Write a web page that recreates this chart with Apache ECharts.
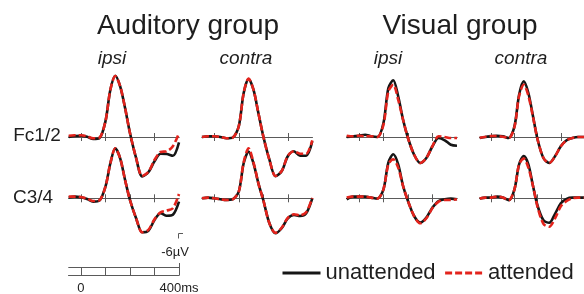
<!DOCTYPE html>
<html><head><meta charset="utf-8">
<script src="https://cdn.jsdelivr.net/npm/echarts@6/dist/echarts.min.js"></script>
<style>html,body{margin:0;padding:0;background:#fff}#c{width:584px;height:294px}</style>
</head><body><div id="c"></div><script>
// time points (ms)
const times = [-50,-25,0,25,50,75,100,120,140,160,180,200,225,250,275,300,325,350,375,400];
// amplitudes (µV, negative up)
const audIpsiFcU = [0,-0.1,-0.13,-0.03,0.2,0.13,-1.57,-4.73,-6.13,-5.07,-2.9,-0.4,2.1,3.95,3.53,2.43,1.67,1.7,1.87,0.53];
const audIpsiFcA = [-0.13,-0.17,-0.17,-0.07,0.13,0.07,-1.57,-4.73,-6.1,-5.07,-2.9,-0.4,2.1,3.9,3.5,2.3,1.5,1.43,0.93,-0.4];
const audIpsiCU = [-0.07,-0.17,-0.1,0.07,0.33,0.23,-1.17,-3.5,-5.0,-4.0,-1.83,0.17,2.0,3.4,3.25,2.17,1.5,1.75,1.65,0.33];
const audIpsiCA = [-0.17,-0.17,-0.13,0.03,0.27,0.2,-1.17,-3.5,-5.0,-4.0,-1.83,0.17,2.0,3.4,3.15,2.1,1.4,1.23,1.0,-0.43];
const audContraFcU = [0,-0.07,-0.07,0,0.13,0.07,-1.07,-4.4,-5.8,-4.73,-2.4,-0.07,2.27,3.93,3.43,1.93,1.43,1.87,1.87,0.43];
const audContraFcA = [0,-0.07,-0.07,0,0.13,0.07,-1.07,-4.4,-5.85,-4.73,-2.4,-0.07,2.27,3.9,3.4,1.9,1.43,1.67,1.67,0.33];
const audContraCU = [0,-0.07,0,0.1,0.17,0.1,-0.67,-3.5,-4.67,-3.5,-1.5,0.17,2.5,3.5,3.0,2.0,1.67,1.77,1.5,0];
const audContraCA = [0,-0.07,0,0.1,0.17,0.1,-0.67,-3.6,-5.0,-3.6,-1.5,0.17,2.5,3.45,2.95,1.95,1.6,1.7,1.4,-0.05];
const visIpsiFcU = [0,-0.07,-0.13,-0.23,-0.07,0,-1.4,-4.9,-5.67,-4.07,-1.73,0.1,1.77,2.6,2.1,0.93,0.1,0.33,0.77,0.87];
const visIpsiFcA = [-0.13,-0.07,-0.13,-0.07,-0.07,0,-1.23,-4.57,-5.23,-3.73,-1.73,0.1,1.77,2.6,2.1,0.9,-0.07,0,0.1,0.1];
const visIpsiCU = [0.1,-0.17,-0.17,-0.17,-0.07,0.03,-0.9,-3.57,-4.4,-3.4,-1.23,0.27,1.77,2.43,1.93,0.93,0.27,0.1,0.03,0.1];
const visIpsiCA = [-0.07,-0.17,-0.17,-0.17,-0.07,0.03,-0.9,-3.4,-3.9,-3.07,-1.23,0.27,1.77,2.5,2.0,0.97,0.33,0.17,0.17,0.1];
const visContraFcU = [0.1,0,-0.07,-0.13,-0.07,0.1,-1.07,-4.23,-5.57,-4.4,-2.07,0.27,2.1,2.6,1.93,0.93,0.33,0.1,0,0];
const visContraFcA = [0.07,-0.03,-0.1,-0.1,-0.03,0.1,-1.0,-4.1,-5.23,-4.13,-2.0,0.27,2.1,2.6,1.93,0.93,0.33,0.1,0,0];
const visContraCU = [0.03,-0.07,-0.07,-0.17,-0.07,0.2,-0.9,-3.4,-4.23,-3.4,-1.23,0.77,2.2,2.45,1.55,0.5,0.05,-0.07,-0.07,-0.07];
const visContraCA = [0.03,-0.07,-0.07,-0.17,-0.07,0.2,-0.9,-3.4,-3.97,-3.07,-1.23,0.9,2.55,2.85,2.0,0.8,0.27,0,-0.07,-0.07];
// labels
const groupTitles = ['Auditory group','Visual group'];
const sideLabels = ['ipsi','contra','ipsi','contra'];
const rowLabels = ['Fc1/2','C3/4'];
const seriesNames = ['unattended','attended'];
const panelTicks = [0,100,200,300];
const scaleTicks = [0,100,200,300,400];

const panels = [
  [audIpsiFcU, audIpsiFcA], [audContraFcU, audContraFcA], [visIpsiFcU, visIpsiFcA], [visContraFcU, visContraFcA],
  [audIpsiCU, audIpsiCA], [audContraCU, audContraCA], [visIpsiCU, visIpsiCA], [visContraCU, visContraCA]
];

// layout
const colLeft = [68.7, 202, 346.7, 479.7];
const rowBase = [137, 198.3];
const panelW = 110.3;
const pxPerUV = 10, yMin = -7, yMax = 5;
const FONT = '"Liberation Sans", Arial, sans-serif';
const axisColor = '#5a5a5a';
const blackC = '#161616', redC = '#e3231c';

const grid = [], xAxis = [], yAxis = [], series = [];
// adds a grid (with zero-line x axis); returns its index
function addGrid(rect, yr, ticks, len, inside, extraX) {
  const gi = grid.length;
  grid.push(rect);
  yAxis.push({ gridIndex: gi, type: 'value', min: yr[0], max: yr[1], inverse: true, show: false, splitLine: { show: false } });
  xAxis.push(Object.assign({
    gridIndex: gi, type: 'value', min: -50, max: 400, interval: 50, position: 'bottom',
    axisLine: { show: true, onZero: true, lineStyle: { color: axisColor, width: 1 } },
    axisTick: { show: true, inside: inside, customValues: ticks, length: len, lineStyle: { color: axisColor, width: 1 } },
    axisLabel: { show: false }, splitLine: { show: false }
  }, extraX || {}));
  return gi;
}
panels.forEach((p, i) => {
  const col = i % 4, row = Math.floor(i / 4);
  const rect = { left: colLeft[col], width: panelW, top: rowBase[row] - (-yMin) * pxPerUV, height: (yMax - yMin) * pxPerUV };
  addGrid(Object.assign({}, rect), [yMin, yMax], panelTicks, 4, true);
  const gi = addGrid(Object.assign({}, rect), [yMin, yMax], panelTicks, 4, false);
  series.push({ name: seriesNames[0], type: 'line', xAxisIndex: gi, yAxisIndex: gi, data: times.map((t, k) => [t, p[0][k]]),
    smooth: 0.3, symbol: 'none', lineStyle: { color: blackC, width: 2.6 }, itemStyle: { color: blackC }, z: 3 });
  series.push({ name: seriesNames[1], type: 'line', xAxisIndex: gi, yAxisIndex: gi, data: times.map((t, k) => [t, p[1][k]]),
    smooth: 0.3, symbol: 'none', lineStyle: { color: redC, width: 2.6, type: [7, 3] }, itemStyle: { color: redC }, z: 4 });
});
// time scale bar
const sRect = { left: colLeft[0], width: panelW, top: 265, height: 20 };
addGrid(Object.assign({}, sRect), [-1, 1], scaleTicks, 5, false, {
  axisLabel: { show: true, customValues: [0, 400], margin: 12, fontSize: 13, fontFamily: FONT, color: '#222',
    formatter: v => v === 400 ? '400ms' : String(v) }
});
addGrid(Object.assign({}, sRect), [-1, 1], scaleTicks.slice(0, 4), 8, true);
addGrid(Object.assign({}, sRect), [-1, 1], [400], 12, true);

const graphic = [];
function txt(x, y, s, size, italic) {
  graphic.push({ type: 'text', x: x, y: y, style: { text: s, fontSize: size, fontFamily: FONT, fontStyle: italic ? 'italic' : 'normal',
    fill: '#1e1e1e', textAlign: 'center', textVerticalAlign: 'middle' } });
}
txt(188, 26, groupTitles[0], 28);
txt(460, 26, groupTitles[1], 28);
[112, 246, 388, 521].forEach((x, i) => txt(x, 59, sideLabels[i], 19, true));
txt(37, 136, rowLabels[0], 19);
txt(33, 198, rowLabels[1], 19);
txt(175, 252, '-6µV', 13);
graphic.push({ type: 'polyline', shape: { points: [[178.5, 238.5], [178.5, 233.5], [183, 233.5]] },
  style: { stroke: axisColor, lineWidth: 1, fill: null } });

const chart = echarts.init(document.getElementById('c'), null, { renderer: 'canvas' });
chart.setOption({
  animation: false,
  backgroundColor: '#fff',
  grid, xAxis, yAxis, series, graphic,
  legend: { data: seriesNames, left: 276, top: 257, itemWidth: 38, itemHeight: 14, itemGap: 8,
    itemStyle: { opacity: 0 }, lineStyle: { width: 3 },
    textStyle: { fontSize: 22, fontFamily: FONT, color: '#1e1e1e' } }
});
</script></body></html>
